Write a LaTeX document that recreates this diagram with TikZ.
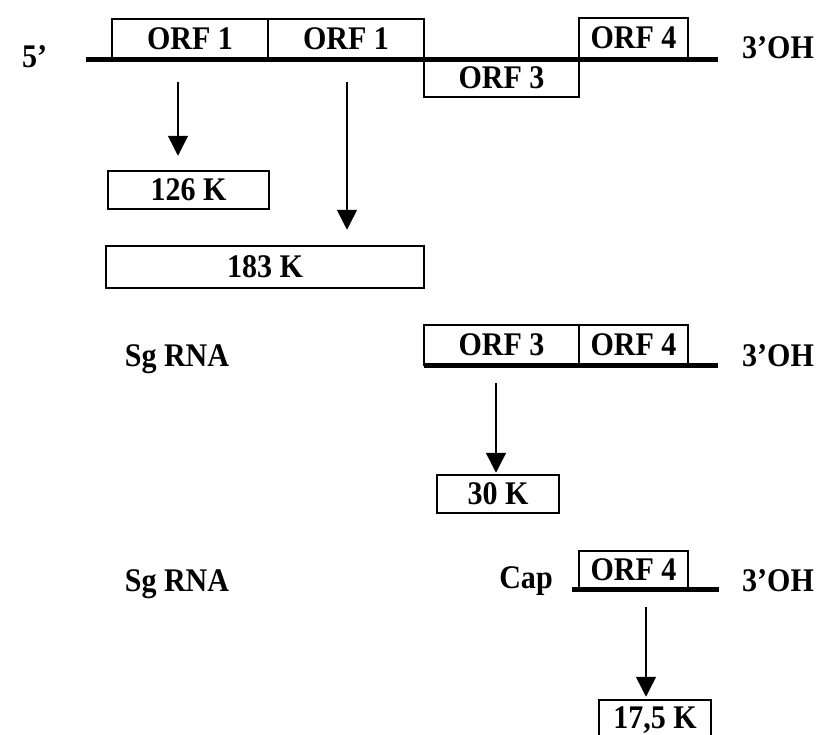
\documentclass[tikz,border=0pt]{standalone}
\usepackage{fontspec}
\setmainfont{Liberation Serif}
\newfontfamily\labelfont[FakeStretch=0.91]{Liberation Serif}
\usetikzlibrary{arrows.meta}

\begin{document}
\begin{tikzpicture}[x=1pt,y=-1pt,
  lbl/.style={font=\labelfont\bfseries\fontsize{33}{38}\selectfont, inner sep=0pt},
  orf/.style={lbl, draw, line width=1.2pt, minimum height=40pt},
  prot/.style={lbl, draw, line width=2.5pt, minimum height=38pt},
  rna/.style={line width=5pt},
  arr/.style={line width=1.5pt, -{Triangle[width=20pt,length=20pt]}}]
\useasboundingbox (0,0) rectangle (817,734);
\clip (0,0) rectangle (817,734);

% genomic RNA
\node[orf, minimum width=156pt] (o1a) at (190,39) {ORF 1};
\node[orf, minimum width=156pt] (o1b) at (346,39) {ORF 1};
\node[orf, minimum width=155pt, minimum height=38pt] (o3a) at (501.5,78) {ORF 3};
\node[orf, minimum width=109pt] (o4a) at (633.5,38) {ORF 4};
\coordinate (g5) at (86,59);
\coordinate (g3) at (718,59);
\draw[rna] (g5) -- (g3);
\node[lbl, anchor=base west] (t5) at (22,67) {5’};
\node[lbl, anchor=base west] (t3a) at (742,58) {3’OH};

% products of the genomic RNA
\node[prot, minimum width=161pt] (p126) at (188.5,190) {126 K};
\node[prot, minimum width=318pt, minimum height=42pt] (p183) at (265,267) {183 K};
\coordinate (a1s) at (178,82);
\coordinate (a2s) at (347,82);
\draw[arr, shorten >=14pt] (a1s) -- (a1s |- p126.north);
\draw[arr, shorten >=15pt] (a2s) -- (a2s |- p183.north);

% first subgenomic RNA
\node[orf, minimum width=155pt] (o3b) at (501.5,345) {ORF 3};
\node[orf, minimum width=109pt] (o4b) at (633.5,345) {ORF 4};
\coordinate (s1l) at (424,365);
\coordinate (s1r) at (718,365);
\draw[rna] (s1l) -- (s1r);
\node[lbl, anchor=base] (sg1) at (177,366) {Sg RNA};
\node[lbl, anchor=base west] (t3b) at (742,366) {3’OH};

\node[prot, minimum width=122pt] (p30) at (498,494) {30 K};
\coordinate (a3s) at (496,383);
\draw[arr, shorten >=1pt] (a3s) -- (a3s |- p30.north);

% second subgenomic RNA
\node[orf, minimum width=109pt, minimum height=38pt] (o4c) at (633.5,570) {ORF 4};
\coordinate (s2l) at (572,589);
\coordinate (s2r) at (719,589);
\draw[rna] (s2l) -- (s2r);
\node[lbl, anchor=base] (sg2) at (177,591) {Sg RNA};
\node[lbl, anchor=base] (cap) at (526,588) {Cap};
\node[lbl, anchor=base west] (t3c) at (742,591) {3’OH};

\node[prot, minimum width=112pt, minimum height=40pt] (p17) at (655,720) {17,5 K};
\coordinate (a4s) at (646,607);
\draw[arr, shorten >=2pt] (a4s) -- (a4s |- p17.north);
\end{tikzpicture}
\end{document}
